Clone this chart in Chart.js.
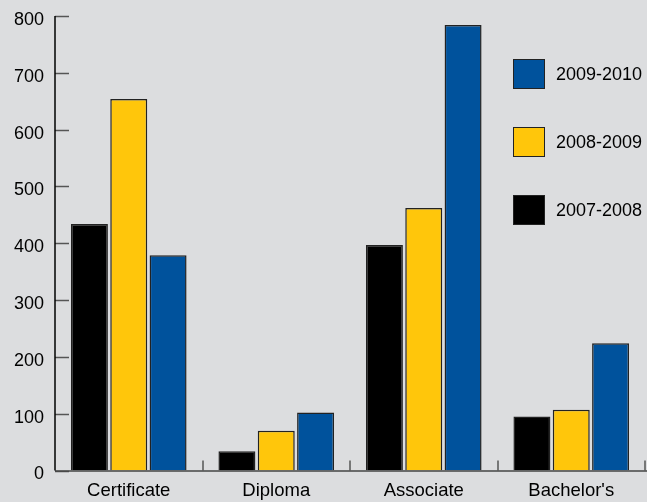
<!DOCTYPE html>
<html>
<head>
<meta charset="utf-8">
<script src="https://cdn.jsdelivr.net/npm/chart.js@4"></script>
<style>
  html, body { margin: 0; padding: 0; background: #dcdddf; }
  #wrap { width: 647px; height: 502px; position: relative; }
</style>
</head>
<body>
<div id="wrap"><canvas id="chart"></canvas></div>
<script>
const categories = ['Certificate', 'Diploma', 'Associate', "Bachelor's"];
const years = ['2007-2008', '2008-2009', '2009-2010'];
const values0708 = [434, 34, 397, 95];
const values0809 = [654, 70, 462, 107];
const values0910 = [379, 102, 784, 224];
const yTicks = [0, 100, 200, 300, 400, 500, 600, 700, 800];

const COLORS = ['#000000', '#ffc60b', '#00529c'];
const FONT = "'Liberation Sans', Arial, sans-serif";

// axis lines and inward tick marks, drawn from the scales
const axisPlugin = {
  id: 'axisMarks',
  afterDatasetsDraw(chart) {
    const { ctx, chartArea, scales } = chart;
    const y = scales.y, x = scales.x;
    ctx.save();
    ctx.lineWidth = 1.5;
    // y ticks (inside)
    ctx.strokeStyle = '#555';
    yTicks.forEach(v => {
      const py = Math.round(y.getPixelForValue(v)) + 0.5;
      ctx.beginPath();
      ctx.moveTo(chartArea.left, py);
      ctx.lineTo(chartArea.left + 14, py);
      ctx.stroke();
    });
    // category separators
    for (let i = 0; i < categories.length; i++) {
      const px = Math.round(x.getPixelForValue(i) + (x.getPixelForValue(1) - x.getPixelForValue(0)) / 2);
      ctx.beginPath();
      ctx.moveTo(px, chartArea.bottom);
      ctx.lineTo(px, chartArea.bottom - 10);
      ctx.stroke();
    }
    // x axis
    ctx.strokeStyle = '#444';
    ctx.beginPath();
    ctx.moveTo(chartArea.left, chartArea.bottom + 0.5);
    ctx.lineTo(chart.width, chartArea.bottom + 0.5);
    ctx.stroke();
    // y axis
    ctx.strokeStyle = '#000';
    ctx.beginPath();
    ctx.moveTo(chartArea.left, y.getPixelForValue(800));
    ctx.lineTo(chartArea.left, chartArea.bottom);
    ctx.stroke();
    ctx.restore();
  }
};

// legend inside the plot, top entry is the latest year
const legendPlugin = {
  id: 'boxLegend',
  afterDraw(chart) {
    const { ctx } = chart;
    ctx.save();
    ctx.font = '18px ' + FONT;
    ctx.textBaseline = 'middle';
    [2, 1, 0].forEach((s, i) => {
      const top = 59 + i * 68;
      ctx.fillStyle = COLORS[s];
      ctx.fillRect(513, top, 32, 30);
      ctx.strokeStyle = '#222';
      ctx.lineWidth = 1;
      ctx.strokeRect(513.5, top + 0.5, 31, 29);
      ctx.fillStyle = '#000';
      ctx.fillText(years[s], 556, top + 16);
    });
    ctx.restore();
  }
};

const seriesValues = [values0708, values0809, values0910];

new Chart(document.getElementById('chart'), {
  type: 'bar',
  data: {
    labels: categories,
    datasets: years.map((yr, i) => ({
      label: yr,
      data: seriesValues[i],
      backgroundColor: COLORS[i],
      borderColor: '#222',
      borderWidth: 1.5,
      categoryPercentage: 0.8,
      barPercentage: 0.94
    }))
  },
  options: {
    responsive: true,
    maintainAspectRatio: false,
    animation: false,
    layout: { padding: { top: 16, right: 2, left: 0, bottom: 0 } },
    plugins: {
      legend: { display: false },
      tooltip: { enabled: false }
    },
    scales: {
      x: {
        afterFit: s => { s.height = 31.5; s.paddingLeft = 0; s.paddingRight = 0; },
        grid: { display: false, drawTicks: false },
        border: { display: false },
        ticks: { color: '#000', font: { family: FONT, size: 18.5 }, padding: 9 }
      },
      y: {
        min: 0,
        max: 800,
        afterFit: s => { s.width = 55; s.paddingTop = 0; s.paddingBottom = 0; },
        afterBuildTicks: s => { s.ticks = yTicks.map(v => ({ value: v })); },
        grid: { display: false, drawTicks: false },
        border: { display: false },
        ticks: { color: '#000', font: { family: FONT, size: 18 }, padding: 11, labelOffset: 4 }
      }
    }
  },
  plugins: [axisPlugin, legendPlugin]
});
</script>
</body>
</html>
